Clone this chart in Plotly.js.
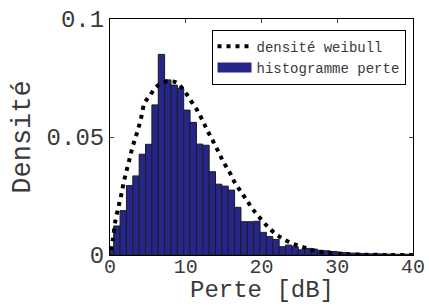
<!DOCTYPE html>
<html>
<head>
<meta charset="utf-8">
<script src="https://cdn.plot.ly/plotly-3.0.1.min.js"></script>
<style>html,body{margin:0;padding:0;background:#fff;}#chart{width:429px;height:306px;}</style>
</head>
<body>
<div id="chart"></div>
<script>
// Histogram of loss (dB): first bin left edge, bin width, bin densities
const binStart = -0.35;
const binWidth = 0.84;
const histDensity = [0.0025,0.0123,0.0188,0.0294,0.0335,0.0427,0.0469,0.0636,0.085,0.0742,
  0.072,0.0706,0.0614,0.0562,0.047,0.0465,0.0353,0.030,0.0292,0.0275,
  0.0202,0.0141,0.0141,0.0143,0.0096,0.0078,0.0066,0.0035,0.0042,0.0035,
  0.0022,0.0028,0.0025,0.002,0.0018,0.0015,0.0012,0.001,0.0008,0.0007,
  0.0006,0.0005,0.0005,0.0004,0.0004,0.0003,0.0004,0.0003];
// Weibull density curve
const weibullX = [0.16,0.37,0.73,1.13,1.48,1.79,2.15,2.49,2.81,3.25,3.68,4.1,4.57,5.23,6.12,7.22,8.2,8.9,9.87,10.75,
  11.63,12.29,12.95,13.71,14.41,15.03,15.83,16.49,17.38,18.17,18.91,20.03,21.03,22.22,23.55,25.0,26.42,27.52,29.0,31.0,34.0,37.0,40.0];
const weibullY = [0.002,0.0064,0.0148,0.0205,0.0254,0.0304,0.0353,0.0395,0.0438,0.0487,0.053,0.058,0.0644,0.0674,0.0713,0.0734,0.0736,0.0728,0.0692,0.065,
  0.0607,0.0565,0.0522,0.0476,0.0431,0.0391,0.0348,0.0306,0.0264,0.0226,0.0191,0.0148,0.0113,0.0081,0.0056,0.0038,0.0024,0.0014,0.0008,0.0004,0.0001,0.00003,0.0];
const xTickVals = [0,10,20,30,40];
const xTickText = ['0','10','20','30','40'];
const yTickVals = [0,0.05,0.1];
const yTickText = ['0','0.05','0.1'];
const labels = {curve:'densité weibull', hist:'histogramme perte', x:'Perte [dB]', y:'Densité'};

const binCenters = histDensity.map((_, i) => binStart + (i + 0.5) * binWidth);
const mono = 'Liberation Mono, DejaVu Sans Mono, monospace';
const barColor = '#262689';
const textColor = '#3a3a3a';

const traces = [
  {type:'scatter', mode:'lines', x:weibullX, y:weibullY, name:labels.curve,
   line:{color:'#000', width:4, dash:'4px,5px', shape:'spline'}},
  {type:'bar', x:binCenters, y:histDensity, width:binWidth, name:labels.hist, showlegend:false,
   marker:{color:barColor, line:{color:'#1a1a2a', width:1}}},
  // legend swatch for the histogram (wide filled rectangle, as in the reference)
  {type:'scatter', mode:'lines', x:[null], y:[null], name:labels.hist,
   line:{color:barColor, width:11}}
];

const layout = {
  width:429, height:306,
  margin:{l:110, r:16, t:19, b:51},
  paper_bgcolor:'#fff', plot_bgcolor:'#fff',
  showlegend:true,
  legend:{x:0.335, y:0.955, xanchor:'left', yanchor:'top', bgcolor:'#fff',
          bordercolor:'#000', borderwidth:1, font:{family:mono, size:14, color:textColor},
          itemwidth:34},
  bargap:0,
  xaxis:{range:[0,40], tickvals:xTickVals, ticktext:xTickText, ticks:'inside', ticklen:4,
         ticklabelstandoff:-7,
         showline:true, mirror:'ticks', linecolor:'#000', linewidth:1, showgrid:false, zeroline:false,
         tickfont:{family:mono, size:20, color:textColor}},
  yaxis:{range:[0,0.1], tickvals:yTickVals, ticktext:yTickText, ticks:'inside', ticklen:4,
         showline:true, mirror:'ticks', linecolor:'#000', linewidth:1, showgrid:false, zeroline:false,
         tickfont:{family:mono, size:24, color:textColor},
         title:{text:labels.y, font:{family:mono, size:27, color:textColor}, standoff:8}},
  annotations:[{text:labels.x, xref:'paper', yref:'paper', x:0.5, y:-0.211, xanchor:'center', yanchor:'bottom',
                showarrow:false, borderpad:0, font:{family:mono, size:24, color:textColor}}]
};

Plotly.newPlot('chart', traces, layout, {staticPlot:true, displayModeBar:false});
</script>
</body>
</html>
